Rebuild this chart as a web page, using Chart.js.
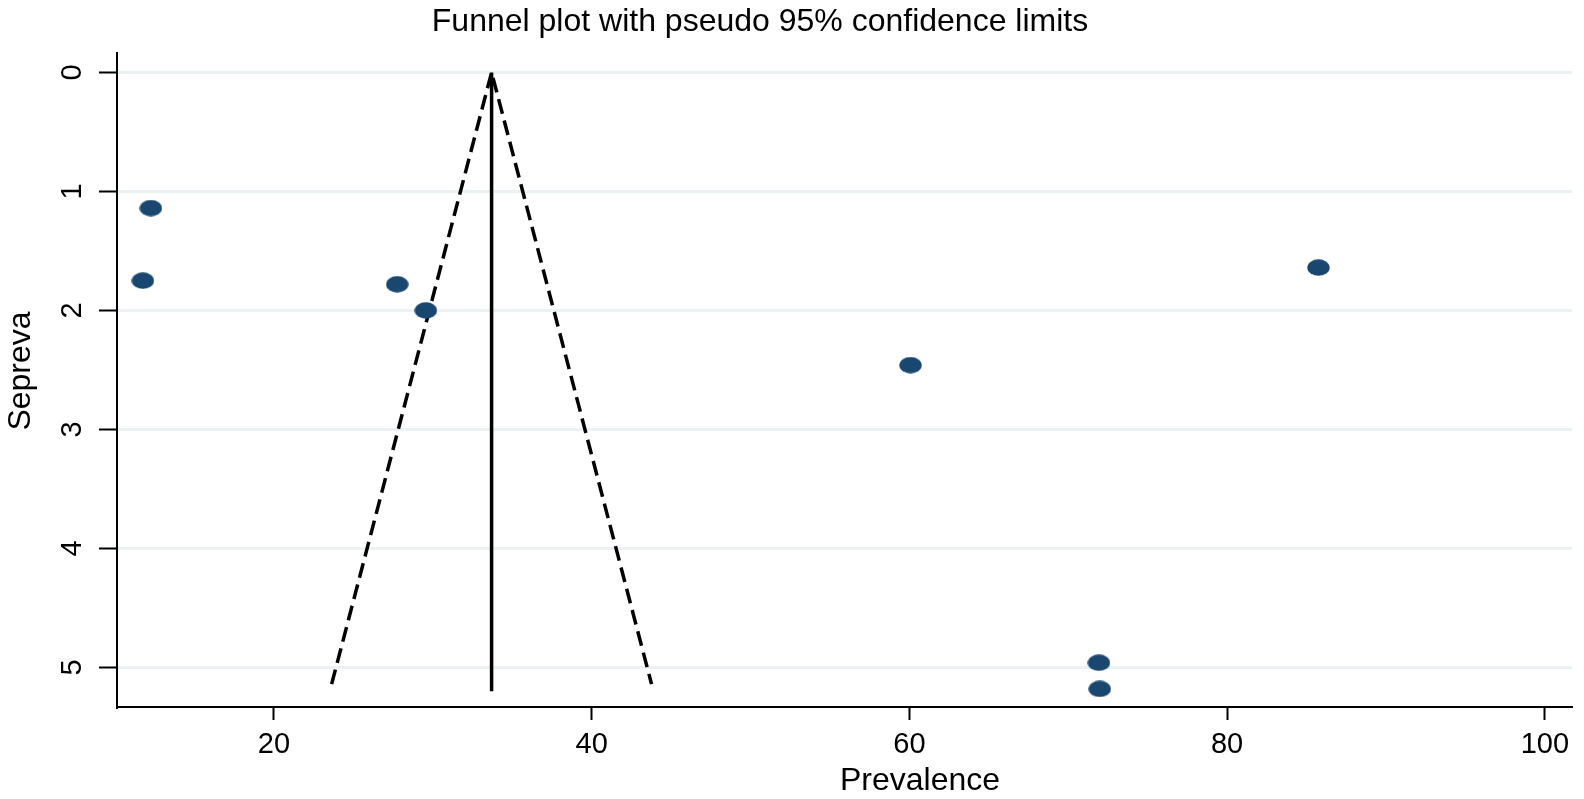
<!DOCTYPE html>
<html>
<head>
<meta charset="utf-8">
<script src="https://cdn.jsdelivr.net/npm/chart.js@4"></script>
<style>
  body { margin: 0; background: #fff; }
  canvas { display: block; }
</style>
</head>
<body>
<canvas id="funnel" width="1584" height="799"></canvas>
<script>
"use strict";

// study estimates
const prevalence = [12.25, 11.75, 27.76, 29.56, 60.07, 85.75, 71.93, 71.98];
const sePrev = [1.14, 1.75, 1.78, 2.00, 2.46, 1.64, 4.96, 5.18];

// pseudo 95% limits and pooled estimate
const funnelX = [23.63, 33.7, 43.77];
const funnelSe = [5.14, 0, 5.14];
const pooledX = [33.7, 33.7];
const pooledSe = [0, 5.2];

const xTicks = [20, 40, 60, 80, 100];
const yTicks = [0, 1, 2, 3, 4, 5];

const titleText = "Funnel plot with pseudo 95% confidence limits";
const xTitle = "Prevalence";
const yTitle = "Sepreva";

const FONT = "'Liberation Sans', Arial, Helvetica, sans-serif";
const navy = "#1a476f";

// Stata style oval marker
const marker = document.createElement("canvas");
marker.width = 23;
marker.height = 17;
(function () {
    const c = marker.getContext("2d");
    c.fillStyle = navy;
    c.beginPath();
    c.ellipse(11.5, 8.5, 11.2, 8.2, 0, 0, Math.PI * 2);
    c.fill();
})();

const toPoints = (xs, ys) => xs.map((x, i) => ({ x: x, y: ys[i] }));

const textPlugin = {
    id: "stataText",
    afterDraw(chart) {
        const ctx = chart.ctx;
        const area = chart.chartArea;
        ctx.save();
        ctx.fillStyle = "#000";
        ctx.textAlign = "center";
        ctx.textBaseline = "middle";
        ctx.font = "32px " + FONT;
        ctx.fillText(titleText, 760, 22);
        ctx.fillText(xTitle, 920, 781);
        ctx.translate(21, (area.top + area.bottom) / 2 - 9);
        ctx.rotate(-Math.PI / 2);
        ctx.fillText(yTitle, 0, 0);
        ctx.restore();
    }
};

new Chart(document.getElementById("funnel"), {
    type: "scatter",
    data: {
        datasets: [
            {
                data: toPoints(pooledX, pooledSe),
                showLine: true,
                borderColor: "#000",
                borderWidth: 3.5,
                pointRadius: 0,
                order: 3
            },
            {
                data: toPoints(funnelX, funnelSe),
                showLine: true,
                borderColor: "#000",
                borderWidth: 3.5,
                borderDash: [15, 7],
                pointRadius: 0,
                order: 2
            },
            {
                data: toPoints(prevalence, sePrev),
                pointStyle: marker,
                pointRadius: 11,
                backgroundColor: navy,
                borderColor: navy,
                order: 1
            }
        ]
    },
    options: {
        responsive: false,
        animation: false,
        events: [],
        layout: { padding: { top: 53, right: 7, left: 0, bottom: 0 } },
        plugins: {
            legend: { display: false },
            tooltip: { enabled: false },
            title: { display: false }
        },
        scales: {
            x: {
                type: "linear",
                min: 10.12,
                max: 101.71,
                afterBuildTicks: (scale) => { scale.ticks = xTicks.map(v => ({ value: v })); },
                afterFit: (scale) => {
                    scale.height = 92;
                    scale.paddingLeft = 0;
                    scale.paddingRight = 0;
                },
                border: { display: true, color: "#000", width: 2 },
                grid: {
                    drawOnChartArea: false,
                    drawTicks: true,
                    tickLength: 13,
                    tickWidth: 2,
                    tickColor: "#000"
                },
                ticks: {
                    color: "#000",
                    padding: 8,
                    font: { family: FONT, size: 29 },
                    maxRotation: 0
                }
            },
            y: {
                type: "linear",
                reverse: true,
                min: -0.163,
                max: 5.332,
                afterBuildTicks: (scale) => { scale.ticks = yTicks.map(v => ({ value: v })); },
                afterFit: (scale) => {
                    scale.width = 117;
                    scale.paddingTop = 0;
                    scale.paddingBottom = 0;
                },
                border: { display: true, color: "#000", width: 2 },
                grid: {
                    color: "#eaf2f3",
                    lineWidth: 3,
                    drawTicks: true,
                    tickLength: 18,
                    tickWidth: 2,
                    tickColor: "#000"
                },
                ticks: {
                    color: "#000",
                    padding: 18,
                    crossAlign: "center",
                    minRotation: 90,
                    maxRotation: 90,
                    font: { family: FONT, size: 29 }
                }
            }
        }
    },
    plugins: [textPlugin]
});
</script>
</body>
</html>
